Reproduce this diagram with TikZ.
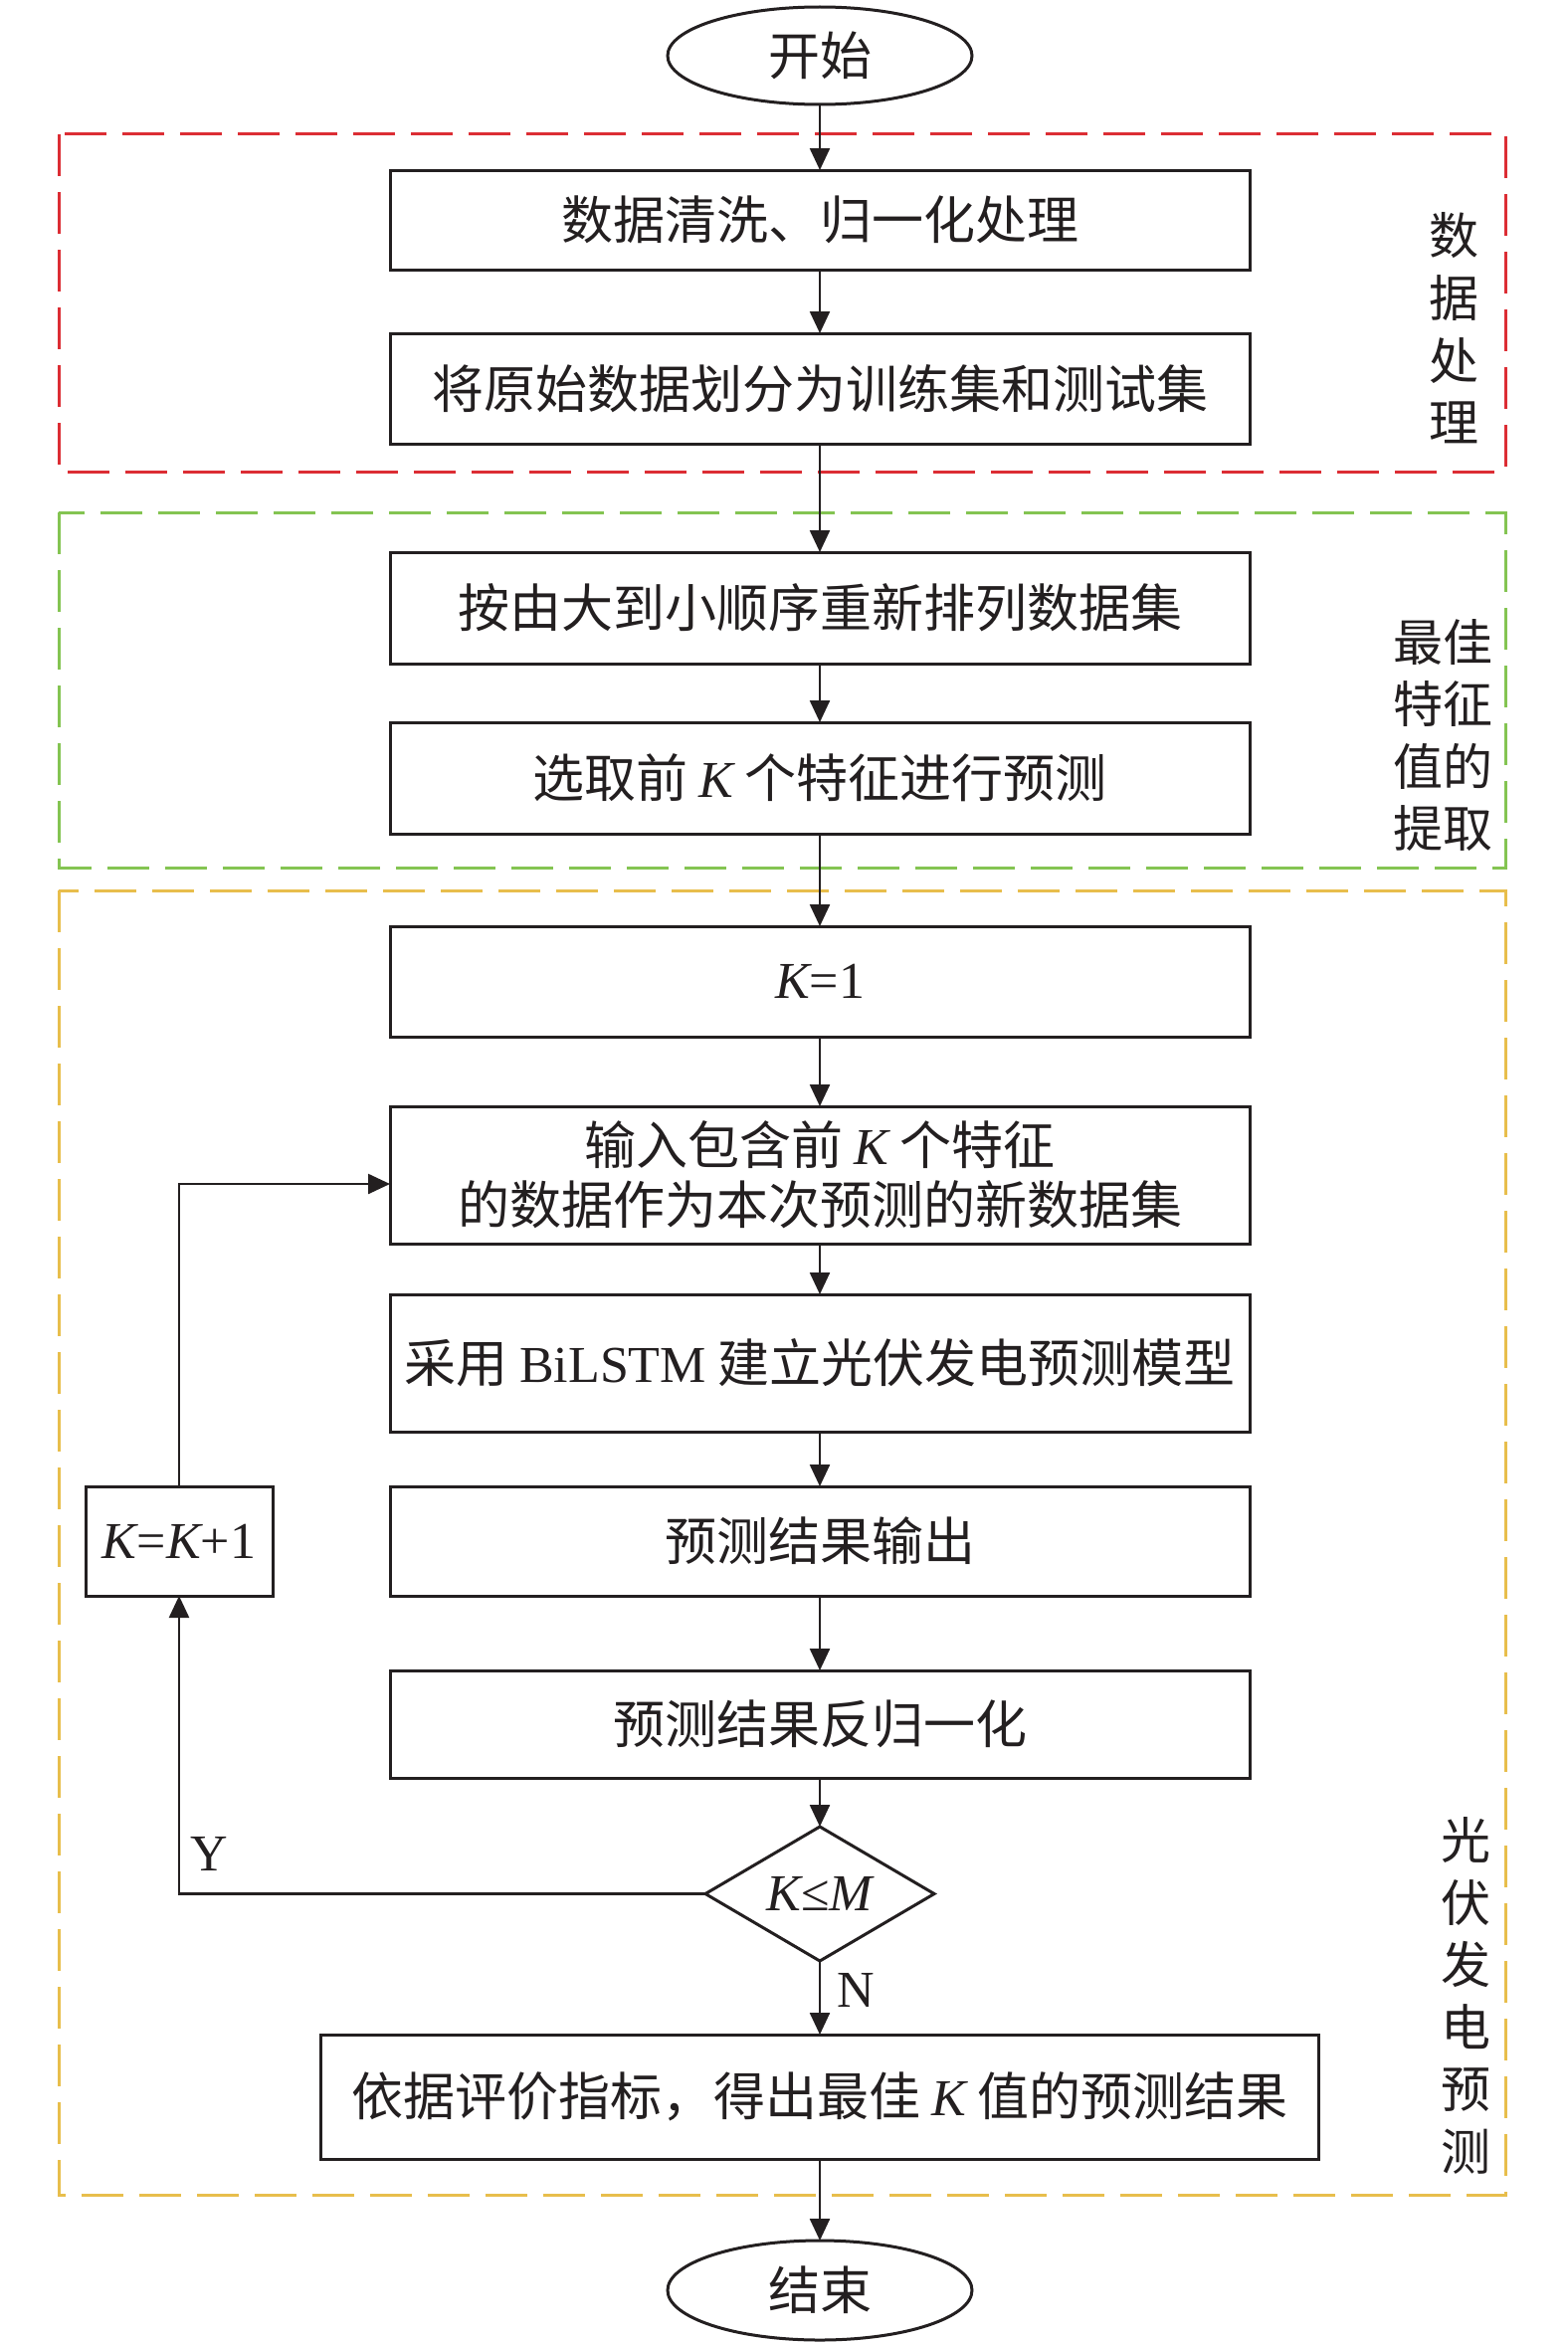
\documentclass[tikz,border=0pt]{standalone}
\usepackage{fontspec}
\setmainfont{Noto Sans CJK SC}
\newfontfamily\tnr{Liberation Serif}
\usetikzlibrary{positioning,shapes.geometric,arrows.meta}
\newcommand{\vK}{{\tnr\itshape K}}
\newcommand{\vM}{{\tnr\itshape M}}
\definecolor{redbox}{RGB}{220,45,52}
\definecolor{greenbox}{RGB}{132,196,82}
\definecolor{yellowbox}{RGB}{232,190,76}
\definecolor{ink}{RGB}{35,31,32}

\begin{document}
\begin{tikzpicture}[node distance={30pt}, ink, line width=1.2pt,
		>={Triangle[length=11pt,width=10pt]},
		main/.style={draw, line width=1.5pt, rectangle, minimum width=432pt, minimum height=56pt, inner sep=0pt, outer sep=0pt, align=center, font=\fontsize{26pt}{30pt}\selectfont},
		term/.style={draw, line width=1.5pt, ellipse, minimum width=153pt, minimum height=49pt, inner sep=0pt, outer sep=0pt, font=\fontsize{26pt}{30pt}\selectfont},
		group/.style={line width=1.5pt, dash pattern=on 21pt off 8pt},
		side/.style={align=center, inner sep=0pt, font=\fontsize{25pt}{31.3pt}\selectfont},
		yn/.style={inner sep=0pt, font=\tnr\fontsize{26pt}{30pt}\selectfont}]
		\useasboundingbox (0,0) rectangle (787.5pt,-1177.5pt);
		
		% groups
		\draw[group, redbox] (29.5pt,-67.5pt) rectangle (756.5pt,-237pt);
		\draw[group, greenbox] (29.5pt,-257.5pt) rectangle (756.5pt,-436pt);
		\draw[group, yellowbox] (29.5pt,-447.5pt) rectangle (756.5pt,-1103pt);
		
		\node[term] (0) at (412pt,-28pt) {开始};
		\node[main, minimum height=50pt] (1) [below=33pt of 0] {数据清洗、归一化处理};
		\node[main, minimum height=55.5pt] (2) [below=32pt of 1] {将原始数据划分为训练集和测试集};
		\node[main] (3) [below=54.5pt of 2] {按由大到小顺序重新排列数据集};
		\node[main] (4) [below=29.5pt of 3] {选取前 \vK{} 个特征进行预测};
		\node[main, minimum height=55.5pt] (5) [below=46.5pt of 4] {\vK{\tnr =1}};
		\node[main, minimum height=69pt] (6) [below=35pt of 5] {输入包含前 \vK{} 个特征\\的数据作为本次预测的新数据集};
		\node[main, minimum height=69pt] (7) [below=25.5pt of 6] {采用 {\tnr BiLSTM} 建立光伏发电预测模型};
		\node[main, minimum height=55pt] (8) [below=27.5pt of 7] {预测结果输出};
		\node[main, minimum height=54pt] (9) [below=37.5pt of 8] {预测结果反归一化};
		\node[draw, diamond, aspect=1.7, line width=1.5pt, minimum width=115pt, minimum height=67.5pt, inner sep=0pt, outer sep=0pt, font=\fontsize{26pt}{30pt}\selectfont] (10) [below=24.5pt of 9] {\vK{\tnr ≤}\vM};
		\node[main, minimum width=501.5pt, minimum height=62.5pt] (11) [below=37pt of 10] {依据评价指标，得出最佳 \vK{} 值的预测结果};
		\node[term, minimum height=50pt] (12) [below=41pt of 11] {结束};
		\node[main, minimum width=94pt, minimum height=55pt] (13) [left=59pt of 8] {\vK{\tnr =}\vK{\tnr +1}};
		
		\node[side] (a) at (730.5pt,-165pt) {数\\据\\处\\理};
		\node[side] (b) at (725pt,-369.5pt) {最佳\\特征\\值的\\提取};
		\node[side] (c) at (736.5pt,-1003pt) {光\\伏\\发\\电\\预\\测};
		
		\foreach \a/\b in {0/1,1/2,2/3,3/4,4/5,5/6,6/7,7/8,8/9,9/10,11/12}
			\draw[->] (\a) -- (\b);
		\draw[->] (10) -- node[yn, right=8pt, pos=0.4] {N} (11);
		\draw[->] (10.west) -| node[yn, pos=0.5, anchor=south west, xshift=5pt, yshift=11pt] {Y} (13.south);
		\draw[->] (13.north) |- ([yshift=-4.5pt]6.west);
	\end{tikzpicture}
\end{document}
